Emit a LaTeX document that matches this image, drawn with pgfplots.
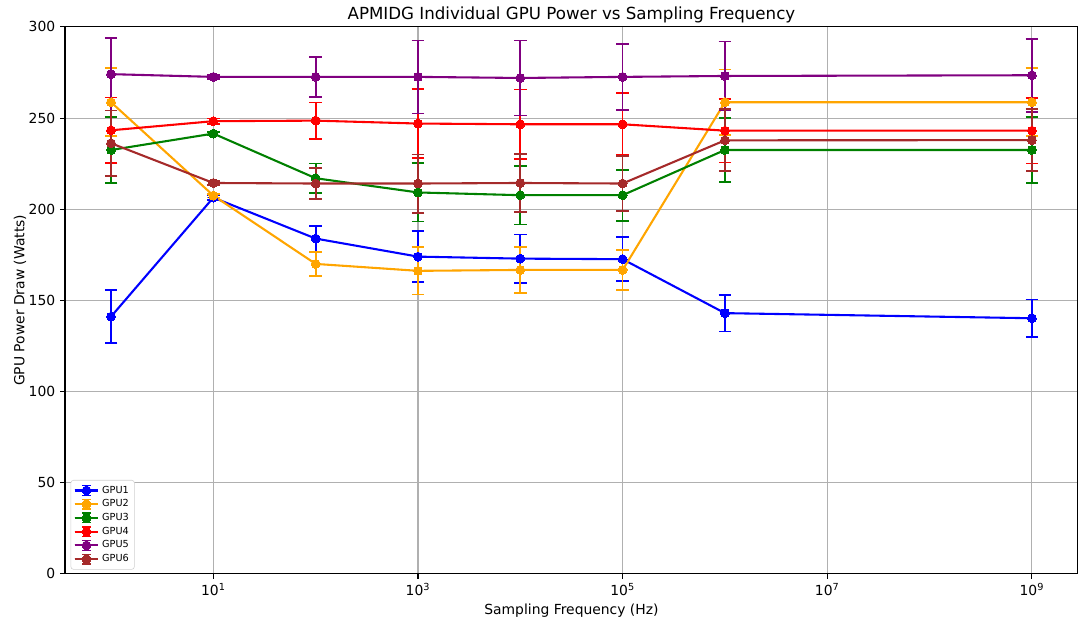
\documentclass[border=0pt]{standalone}
\usepackage{pgfplots}
\pgfplotsset{compat=1.18}
\usepackage{pgfplotstable}
\usepackage{fontspec}
\setmainfont{DejaVu Sans}
\definecolor{cBlue}{RGB}{0,0,255}
\definecolor{cOrange}{RGB}{255,165,0}
\definecolor{cGreen}{RGB}{0,128,0}
\definecolor{cRed}{RGB}{255,0,0}
\definecolor{cPurple}{RGB}{128,0,128}
\definecolor{cBrown}{RGB}{165,42,42}
\definecolor{gridgray}{RGB}{176,176,176}

\pgfplotstableread{
x y e
1 141.1 14.5
10 206.4 1.5
100 183.9 7
1000 174.0 14
1e4 172.9 13.3
1e5 172.6 12
1e6 143.0 10
1e9 140.2 10.3
}\gpuA
\pgfplotstableread{
x y e
1 258.7 18.7
10 207.5 1
100 170.0 6.6
1000 166.2 13
1e4 166.7 12.5
1e5 166.7 11
1e6 258.7 18
1e9 258.7 18.6
}\gpuB
\pgfplotstableread{
x y e
1 232.5 18
10 241.5 1
100 217.0 8
1000 209.2 16
1e4 207.7 16
1e5 207.7 14
1e6 232.5 17.5
1e9 232.5 18
}\gpuC
\pgfplotstableread{
x y e
1 243.3 18
10 248.3 1.5
100 248.6 10
1000 247.0 19
1e4 246.6 19
1e5 246.6 17
1e6 243.1 17.5
1e9 243.1 18
}\gpuD
\pgfplotstableread{
x y e
1 274.1 20
10 272.6 1
100 272.6 11
1000 272.6 20
1e4 272.0 20.5
1e5 272.6 18
1e6 273.1 19
1e9 273.5 20
}\gpuE
\pgfplotstableread{
x y e
1 236.2 18
10 214.4 1
100 214.1 8.5
1000 214.1 16
1e4 214.4 16
1e5 214.1 15
1e6 237.8 17
1e9 237.9 17
}\gpuF

\pgfplotsset{
  gpu/.style={color=#1, line width=1.5pt, mark=*, mark size=3.2pt,
    mark options={solid, fill=#1, draw=#1, line width=0pt},
    error bars/.cd, y dir=both, y explicit,
    error bar style={line width=1.2pt, color=#1},
    error mark options={rotate=90, mark size=4.5pt, line width=1.2pt, color=#1}},
}

\begin{document}
\begin{tikzpicture}
\path[use as bounding box] (-46.8pt,-33.1pt) rectangle (730.9pt,413.2pt);
\begin{axis}[
  at={(0pt,0pt)}, anchor=south west,
  scale only axis,
  width=729.4pt, height=393.8pt,
  xmode=log,
  xmin=0.3548, xmax=2.818e9,
  ymin=0, ymax=300,
  xtick={10,1000,100000,10000000,1000000000},
  xticklabels={10\textsuperscript{1},10\textsuperscript{3},10\textsuperscript{5},10\textsuperscript{7},10\textsuperscript{9}},
  minor xtick={},
  ytick={0,50,100,150,200,250,300},
  /pgf/number format/assume math mode=true,
  tick label style={font=\fontsize{10}{12}\selectfont},
  tick align=outside,
  major tick length=3.5pt,
  tick style={black, line width=0.8pt},
  xtick pos=bottom, ytick pos=left,
  axis line style={black, line width=0.8pt},
  grid=major,
  major grid style={gridgray, line width=0.8pt},
  title={APMIDG Individual GPU Power vs Sampling Frequency},
  title style={font=\fontsize{12}{14}\selectfont, yshift=-7pt},
  xlabel={Sampling Frequency (Hz)},
  ylabel={GPU Power Draw (Watts)},
  label style={font=\fontsize{10}{12}\selectfont},
  xlabel style={yshift=1pt},
  ylabel style={yshift=-5pt},
  legend style={at={(0,0)}, anchor=south west, xshift=4pt, yshift=3pt,
    font=\fontsize{7}{8}\selectfont, draw=gridgray!60, rounded corners=2pt,
    row sep=-0.8pt, inner sep=2pt},
  legend cell align=left,
  legend image code/.code={
    \draw[#1, mark=none] (0cm,0cm) -- (0.6cm,0cm);
    \draw[#1, mark=none, line width=1pt] (0.3cm,-3.5pt) -- (0.3cm,3.5pt);
    \draw[#1, mark=none, line width=1pt] (0.3cm-3pt,3.5pt) -- (0.3cm+3pt,3.5pt);
    \draw[#1, mark=none, line width=1pt] (0.3cm-3pt,-3.5pt) -- (0.3cm+3pt,-3.5pt);
    \draw[#1, mark repeat=2, mark phase=2] plot coordinates {(0cm,0cm) (0.3cm,0cm) (0.6cm,0cm)};
  },
]
\addplot[gpu=cBlue] table[x=x,y=y,y error=e]{\gpuA};
\addlegendentry{GPU1}
\addplot[gpu=cOrange] table[x=x,y=y,y error=e]{\gpuB};
\addlegendentry{GPU2}
\addplot[gpu=cGreen] table[x=x,y=y,y error=e]{\gpuC};
\addlegendentry{GPU3}
\addplot[gpu=cRed] table[x=x,y=y,y error=e]{\gpuD};
\addlegendentry{GPU4}
\addplot[gpu=cPurple] table[x=x,y=y,y error=e]{\gpuE};
\addlegendentry{GPU5}
\addplot[gpu=cBrown] table[x=x,y=y,y error=e]{\gpuF};
\addlegendentry{GPU6}
\end{axis}
\end{tikzpicture}
\end{document}
